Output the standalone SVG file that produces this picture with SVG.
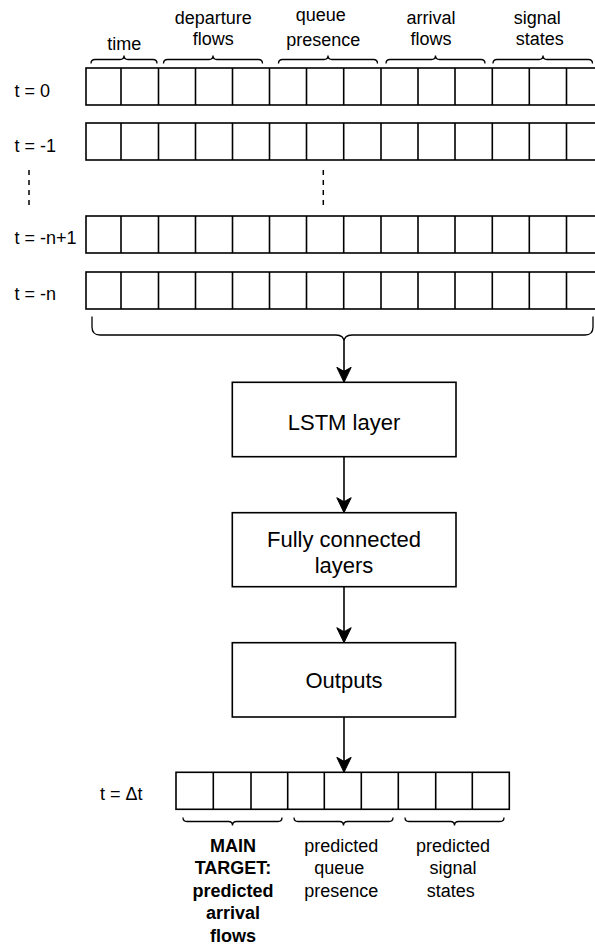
<svg xmlns="http://www.w3.org/2000/svg" xmlns:xlink="http://www.w3.org/1999/xlink" width="595" height="945" viewBox="0 0 595 945">
<style>
.cell{fill:#ffffff;stroke:#000000;stroke-width:1.6}
.ln{fill:none;stroke:#000000;stroke-width:1.6}
.brace{fill:none;stroke:#000000;stroke-width:1.3}
.box{fill:#ffffff;stroke:#000000;stroke-width:1.6}
.dots{fill:none;stroke:#000000;stroke-width:1.5;stroke-dasharray:5 5}
.lbl{font-family:"Liberation Sans",Arial,Helvetica,sans-serif;font-size:18px;fill:#000000}
.mid{text-anchor:middle}
.big{font-family:"Liberation Sans",Arial,Helvetica,sans-serif;font-size:22px;fill:#000000;text-anchor:middle}
.bold{font-weight:bold}
</style>
<defs>
<marker id="arr" markerUnits="userSpaceOnUse" viewBox="0 0 16 16" refX="15.5" refY="8" markerWidth="16" markerHeight="16" orient="auto">
<path d="M15.5,8 L0.5,0.8 L4.5,8 L0.5,15.2 Z" fill="#000000" stroke="#000000" stroke-width="1"/>
</marker>
<g id="row">
<rect class="cell" x="86" y="0" width="517.5" height="37"/>
<path class="ln" d="M121,0V37M158.5,0V37M195.5,0V37M232.5,0V37M269.5,0V37M306.5,0V37M343.7,0V37M381,0V37M418,0V37M455,0V37M492.3,0V37M529.3,0V37M566.5,0V37"/>
</g>
</defs>
<rect width="595" height="945" fill="#ffffff"/>

<g id="header-labels">
<g id="lbl-time"><text class="lbl mid" x="124.3" y="49.5">time</text>
<path class="brace" d="M91,63.5 Q91,59.5 95,59.5 L120,59.5 Q124,59.5 124,55.5 Q124,59.5 128,59.5 L153,59.5 Q157,59.5 157,63.5"/></g>
<g id="lbl-departure"><text class="lbl mid" x="213.3" y="23.5">departure</text><text class="lbl mid" x="213.3" y="44.5">flows</text>
<path class="brace" d="M163.5,63.5 Q163.5,59.5 167.5,59.5 L209,59.5 Q213,59.5 213,55.5 Q213,59.5 217,59.5 L258.5,59.5 Q262.5,59.5 262.5,63.5"/></g>
<g id="lbl-queue"><text class="lbl mid" x="320.8" y="20.5">queue</text><text class="lbl mid" x="323.3" y="46.3">presence</text>
<path class="brace" d="M278.5,63.5 Q278.5,59.5 282.5,59.5 L324,59.5 Q328,59.5 328,55.5 Q328,59.5 332,59.5 L373.5,59.5 Q377.5,59.5 377.5,63.5"/></g>
<g id="lbl-arrival"><text class="lbl mid" x="431" y="23.5">arrival</text><text class="lbl mid" x="431" y="44.5">flows</text>
<path class="brace" d="M386,63.5 Q386,59.5 390,59.5 L431.5,59.5 Q435.5,59.5 435.5,55.5 Q435.5,59.5 439.5,59.5 L481,59.5 Q485,59.5 485,63.5"/></g>
<g id="lbl-signal"><text class="lbl mid" x="537.2" y="23.5">signal</text><text class="lbl mid" x="539.7" y="44.5">states</text>
<path class="brace" d="M493,63.5 Q493,59.5 497,59.5 L539,59.5 Q543,59.5 543,55.5 Q543,59.5 547,59.5 L588.5,59.5 Q592.5,59.5 592.5,63.5"/></g>
</g>

<g id="row-t0"><text class="lbl" x="14.5" y="97">t = 0</text><use xlink:href="#row" href="#row" y="68"/></g>
<g id="row-t-1"><text class="lbl" x="14.5" y="151.5">t = -1</text><use xlink:href="#row" href="#row" y="123"/></g>
<g id="ellipsis">
<path class="dots" d="M29,170V207"/>
<path class="dots" d="M323.3,170V207"/>
</g>
<g id="row-t-n1"><text class="lbl" x="14.5" y="244">t = -n+1</text><use xlink:href="#row" href="#row" y="216"/></g>
<g id="row-t-n"><text class="lbl" x="14.5" y="299.5">t = -n</text><use xlink:href="#row" href="#row" y="272"/></g>

<g id="input-brace">
<path class="brace" d="M92,316.5 L92,327 Q92,335 100,335 L336,335 Q344,335 344,342 Q344,335 352,335 L585,335 Q593,335 593,327 L593,316.5"/>
</g>

<g id="lstm"><rect class="box" x="232.3" y="382.3" width="223.7" height="74.4"/><text class="big" x="344" y="429.5">LSTM layer</text></g>
<g id="fc"><rect class="box" x="232.3" y="512.7" width="223.7" height="74"/><text class="big" x="344" y="546.5">Fully connected</text><text class="big" x="344" y="572.5">layers</text></g>
<g id="outputs"><rect class="box" x="232.3" y="642.7" width="223.2" height="74.3"/><text class="big" x="344" y="688.3">Outputs</text></g>

<g id="output-row">
<text class="lbl" x="100" y="800">t = Δt</text>
<rect class="cell" x="176" y="772.3" width="333.3" height="37"/>
<path class="ln" d="M213.3,772.3V809.3M251,772.3V809.3M287.7,772.3V809.3M324.3,772.3V809.3M361.3,772.3V809.3M398.3,772.3V809.3M435.7,772.3V809.3M472.3,772.3V809.3"/>
</g>

<g id="out-arrival">
<path class="brace" d="M183,817.5 Q183,821.5 187,821.5 L228.5,821.5 Q232.5,821.5 232.5,825.5 Q232.5,821.5 236.5,821.5 L278,821.5 Q282,821.5 282,817.5"/>
<text class="lbl mid bold" x="233" y="851.5">MAIN</text>
<text class="lbl mid bold" x="233" y="874">TARGET:</text>
<text class="lbl mid bold" x="233" y="896.5">predicted</text>
<text class="lbl mid bold" x="233" y="919">arrival</text>
<text class="lbl mid bold" x="233" y="941.5">flows</text>
</g>
<g id="out-queue">
<path class="brace" d="M294,817.5 Q294,821.5 298,821.5 L339.5,821.5 Q343.5,821.5 343.5,825.5 Q343.5,821.5 347.5,821.5 L389,821.5 Q393,821.5 393,817.5"/>
<text class="lbl mid" x="341.3" y="851.5">predicted</text>
<text class="lbl mid" x="339.3" y="874">queue</text>
<text class="lbl mid" x="341.3" y="896.5">presence</text>
</g>
<g id="out-signal">
<path class="brace" d="M405,817.5 Q405,821.5 409,821.5 L450.5,821.5 Q454.5,821.5 454.5,825.5 Q454.5,821.5 458.5,821.5 L500,821.5 Q504,821.5 504,817.5"/>
<text class="lbl mid" x="453" y="851.5">predicted</text>
<text class="lbl mid" x="453" y="874">signal</text>
<text class="lbl mid" x="450.8" y="896.5">states</text>
</g>

<g id="connectors">
<path class="ln" d="M344,342 L344,382.3" marker-end="url(#arr)"/>
<path class="ln" d="M344,456.7 L344,512.7" marker-end="url(#arr)"/>
<path class="ln" d="M344,586.7 L344,642.7" marker-end="url(#arr)"/>
<path class="ln" d="M344,717 L344,772.3" marker-end="url(#arr)"/>
</g>
</svg>
